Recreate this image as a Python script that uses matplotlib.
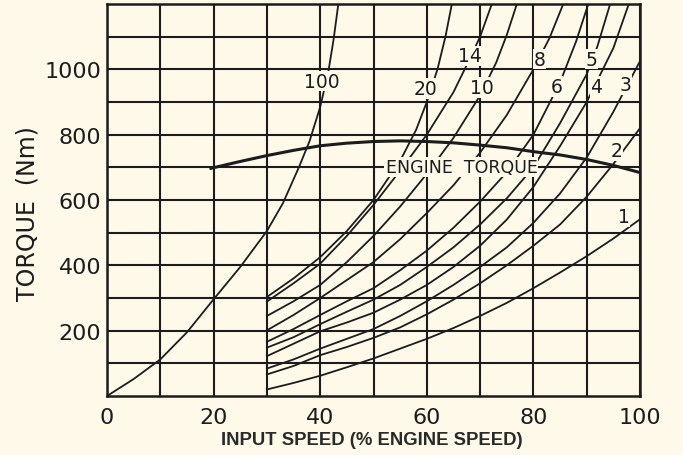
import matplotlib
matplotlib.use('Agg')
import matplotlib.pyplot as plt
from matplotlib.ticker import FixedLocator

BG = '#FEF9E8'
INK = '#1c1c1c'

# ---- data ----
c100_speed = [0, 5, 10, 15, 20, 25, 30, 33, 36, 38, 40, 41.5, 42.5, 43.4]
c100_torque = [0, 52, 112, 195, 296, 395, 505, 590, 700, 780, 885, 990, 1090, 1200]

engine_speed = [19.5, 25, 30, 35, 40, 45, 50, 55, 60, 65, 70, 75, 80, 85, 90, 95, 100]
engine_torque = [697, 718, 736, 752, 766, 774, 779, 781, 779, 775, 768, 760, 748, 738, 724, 706, 684]

c20_speed = [30, 35, 40, 45, 50, 55, 58, 60, 62, 63.5, 64.7]
c20_torque = [303, 360, 425, 505, 600, 720, 815, 900, 1000, 1100, 1200]

c14_speed = [30, 35, 40, 45, 50, 55, 60, 65, 68, 70, 72.2]
c14_torque = [289, 345, 405, 490, 585, 690, 800, 930, 1030, 1100, 1200]

c10_speed = [30, 35, 40, 45, 50, 55, 60, 65, 70, 73, 75, 76.9]
c10_torque = [245, 290, 340, 410, 490, 580, 680, 790, 920, 1020, 1105, 1200]

c8_speed = [30, 35, 40, 45, 50, 55, 60, 65, 70, 75, 80, 83, 85.6]
c8_torque = [201, 248, 300, 355, 410, 480, 560, 645, 745, 860, 1000, 1095, 1200]

c6_speed = [30, 35, 40, 45, 50, 55, 60, 65, 70, 75, 80, 85, 88, 90.3]
c6_torque = [166, 205, 248, 290, 330, 385, 445, 515, 595, 685, 800, 960, 1085, 1200]

c5_speed = [30, 35, 40, 45, 50, 55, 60, 65, 70, 75, 80, 85, 90, 92, 94.4]
c5_torque = [148, 180, 220, 258, 295, 340, 395, 455, 525, 605, 700, 835, 985, 1070, 1200]

c4_speed = [30, 35, 40, 45, 50, 55, 60, 65, 70, 75, 80, 85, 90, 95, 97.9]
c4_torque = [122, 160, 198, 225, 255, 295, 340, 395, 460, 540, 640, 765, 900, 1065, 1200]

c3_speed = [30, 35, 40, 45, 50, 55, 60, 65, 70, 75, 80, 85, 90, 95, 100]
c3_torque = [84, 112, 145, 175, 205, 245, 290, 340, 395, 455, 530, 620, 730, 870, 1025]

c2_speed = [30, 35, 40, 45, 50, 55, 60, 65, 70, 75, 80, 85, 90, 95, 100]
c2_torque = [66, 92, 125, 150, 178, 210, 250, 295, 345, 400, 460, 525, 610, 710, 820]

c1_speed = [30, 35, 40, 45, 50, 55, 60, 65, 70, 75, 80, 85, 90, 95, 100]
c1_torque = [20, 40, 62, 88, 115, 145, 175, 208, 245, 285, 330, 378, 428, 482, 541]

curve_names = ['100', '20', '14', '10', '8', '6', '5', '4', '3', '2', '1']
label_speed = [40.3, 59.8, 68.1, 70.4, 81.1, 84.3, 90.9, 91.8, 97.2, 95.6, 96.9]
label_torque = [964, 941, 1041, 944, 1031, 947, 1031, 947, 954, 750, 548]

x_ticks = [0, 20, 40, 60, 80, 100]
y_ticks = [200, 400, 600, 800, 1000]

# ---- figure ----
fig = plt.figure(figsize=(6.83, 4.56), dpi=100, facecolor=BG)
ax = fig.add_axes([107 / 683, 1 - 397 / 456, 533 / 683, 392 / 456])
ax.set_facecolor(BG)
ax.set_xlim(0, 100)
ax.set_ylim(0, 1200)

ax.xaxis.set_major_locator(FixedLocator(x_ticks))
ax.xaxis.set_minor_locator(FixedLocator([10, 30, 50, 70, 90]))
ax.yaxis.set_major_locator(FixedLocator(y_ticks))
ax.yaxis.set_minor_locator(FixedLocator([100, 300, 500, 700, 900, 1100]))
ax.grid(True, which='both', color=INK, linewidth=1.5, zorder=1)
ax.set_axisbelow(True)
ax.tick_params(which='both', length=0, colors=INK, labelsize=16)
ax.tick_params(axis='y', pad=4)
ax.tick_params(axis='x', pad=8)
for s in ax.spines.values():
    s.set_linewidth(1.8)
    s.set_color(INK)

all_curves = [
    (c100_speed, c100_torque), (c20_speed, c20_torque), (c14_speed, c14_torque),
    (c10_speed, c10_torque), (c8_speed, c8_torque), (c6_speed, c6_torque),
    (c5_speed, c5_torque), (c4_speed, c4_torque), (c3_speed, c3_torque),
    (c2_speed, c2_torque), (c1_speed, c1_torque),
]
for xs, ys in all_curves:
    ax.plot(xs, ys, color=INK, linewidth=1.3, zorder=3, solid_joinstyle='round')

ax.plot(engine_speed, engine_torque, color=INK, linewidth=2.2, zorder=3)

for name, lx, ly in zip(curve_names, label_speed, label_torque):
    ax.text(lx, ly, name, ha='center', va='center', fontsize=13.5, color=INK, zorder=5,
            bbox=dict(facecolor=BG, edgecolor='none', pad=0.5))

ax.text(66.5, 700, 'ENGINE  TORQUE', ha='center', va='center', fontsize=12.5, color=INK,
        zorder=5, bbox=dict(facecolor=BG, edgecolor='none', pad=0.8))

fig.text(28 / 683, 1 - 214 / 456, 'TORQUE  (Nm)', rotation=90, ha='center', va='center',
         fontsize=17, color=INK)
fig.text(372 / 683, 1 - 441 / 456, 'INPUT SPEED (% ENGINE SPEED)', ha='center', va='center',
         fontsize=13.3, fontweight='bold', color='#2a2a2a',
         family=['Liberation Sans Narrow', 'Liberation Sans', 'DejaVu Sans'])

fig.savefig('out.png', dpi=100, facecolor=BG)
